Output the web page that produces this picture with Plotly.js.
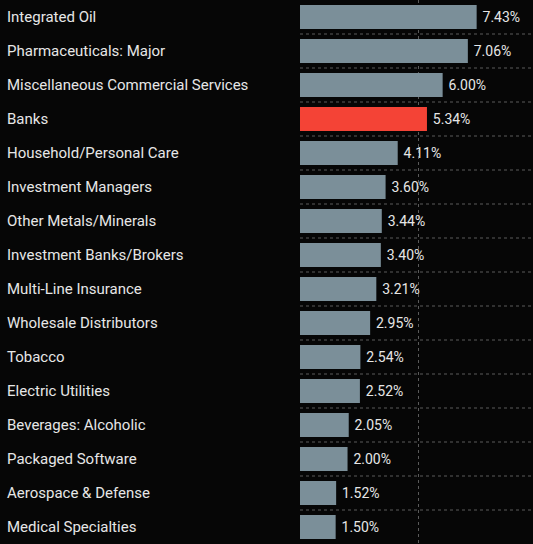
<!DOCTYPE html>
<html><head><meta charset="utf-8">
<script src="https://cdn.plot.ly/plotly-3.0.1.min.js"></script>
<style>html,body{margin:0;padding:0;background:#060606;}#chart{width:533px;height:544px;}</style>
</head><body><div id="chart"></div>
<script>
const categories = ["Integrated Oil","Pharmaceuticals: Major","Miscellaneous Commercial Services","Banks","Household/Personal Care","Investment Managers","Other Metals/Minerals","Investment Banks/Brokers","Multi-Line Insurance","Wholesale Distributors","Tobacco","Electric Utilities","Beverages: Alcoholic","Packaged Software","Aerospace & Defense","Medical Specialties"];
const values = [7.43,7.06,6.00,5.34,4.11,3.60,3.44,3.40,3.21,2.95,2.54,2.52,2.05,2.00,1.52,1.50];
const highlight = "Banks";

const colors = categories.map(c => c === highlight ? "#f44336" : "#7b8f99");
const font = "Roboto, 'Noto Sans', sans-serif";
const trace = {
  type: "bar", orientation: "h",
  x: values, y: categories,
  marker: {color: colors},
  width: 0.7,
  text: values.map(v => "\u2009" + v.toFixed(2) + "%"),
  textposition: "outside",
  cliponaxis: false,
  textfont: {color: "#e6e6e6", size: 14, family: font},
  hoverinfo: "none"
};
const annotations = categories.map(c => ({
  xref: "paper", yref: "y", x: -295/233, y: c, xanchor: "left", yanchor: "middle",
  text: c, showarrow: false, font: {color: "#e6e6e6", size: 15, family: font}
}));
// dashed separators at the boundaries between category rows
const shapes = categories.slice(0, -1).map((c, i) => ({
  type: "line", xref: "paper", yref: "paper", x0: 0, x1: 1,
  y0: 1 - (i + 1) / categories.length, y1: 1 - (i + 1) / categories.length,
  line: {color: "#5a5a5a", width: 1, dash: "dot"}, layer: "above"
}));
const layout = {
  width: 533, height: 544,
  margin: {l: 300, r: 0, t: 0, b: 0},
  paper_bgcolor: "#060606", plot_bgcolor: "#060606",
  showlegend: false,
  xaxis: {range: [0, 9.8], tickvals: [0, 5, 10], showticklabels: false, showgrid: true,
          gridcolor: "#5a5a5a", griddash: "dot", gridwidth: 1, zeroline: false, showline: false},
  yaxis: {autorange: "reversed", showticklabels: false, showgrid: false,
          zeroline: false, showline: false, ticks: ""},
  annotations: annotations,
  shapes: shapes
};
Plotly.newPlot("chart", [trace], layout, {displayModeBar: false, staticPlot: true});
</script></body></html>
